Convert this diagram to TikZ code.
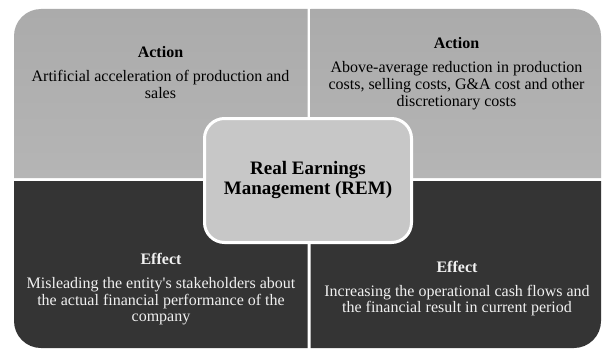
\documentclass[tikz,border=0pt]{standalone}
\usepackage{fontspec}
\setmainfont{Liberation Serif}[Ligatures=TeXOff]
\definecolor{topTop}{RGB}{171,171,171}
\definecolor{topBot}{RGB}{181,181,181}
\definecolor{botFill}{RGB}{52,52,52}
\definecolor{midFill}{RGB}{199,199,199}
\definecolor{lightText}{RGB}{240,240,240}
\tikzset{
  quadtop/.style={top color=topTop, bottom color=topBot, draw=none},
  quadbot/.style={fill=botFill, draw=none},
  head/.style={font=\fontsize{16}{16.7}\selectfont\bfseries, inner sep=0pt, anchor=base},
  body/.style={font=\fontsize{16}{16.7}\selectfont, inner sep=0pt, anchor=north, align=center},
  remboxstyle/.style={draw=white, line width=3pt, fill=midFill, rounded corners=20pt,
    minimum width=207pt, minimum height=124pt, inner sep=0pt, align=center,
    font=\fontsize{19}{20}\selectfont\bfseries}
}
\begin{document}
\begin{tikzpicture}[x=1pt,y=1pt]
\useasboundingbox (0,0) rectangle (602,349);
\fill[white] (0,0) rectangle (602,349);
% quadrants
\def\qr{27}
\path[quadtop] (14,171) -- (14,340-\qr) arc[start angle=180,end angle=90,radius=\qr] -- (307.5,340) -- (307.5,171) -- cycle;
\path[quadtop] (310.5,171) -- (310.5,340) -- (601-\qr,340) arc[start angle=90,end angle=0,radius=\qr] -- (601,171) -- cycle;
\path[quadbot] (14,168) -- (14,1+\qr) arc[start angle=180,end angle=270,radius=\qr] -- (307.5,1) -- (307.5,168) -- cycle;
\path[quadbot] (310.5,168) -- (310.5,1) -- (601-\qr,1) arc[start angle=270,end angle=360,radius=\qr] -- (601,168) -- cycle;
% texts
\node[head] (tlh) at (160.5,291) {Action};
\node[body] (tlb) at (160.5,279) {\strut Artificial acceleration of production and\\\strut sales};
\node[head] (trh) at (456.5,300.7) {Action};
\node[body] (trb) at (456.5,288) {\strut Above-average reduction in production\\\strut costs, selling costs, G\&A cost and other\\\strut discretionary costs};
\node[head, text=lightText] (blh) at (161,84.7) {Effect};
\node[body, text=lightText] (blb) at (161,72.4) {\strut Misleading the entity's stakeholders about\\\strut the actual financial performance of the\\\strut company};
\node[head, text=lightText] (brh) at (457,76.7) {Effect};
\node[body, text=lightText] (brb) at (457,64.7) {\strut Increasing the operational cash flows and\\\strut the financial result in current period};
% centre
\node[remboxstyle] (rem) at (308,168.5) {Real Earnings\\Management (REM)};
\end{tikzpicture}
\end{document}
